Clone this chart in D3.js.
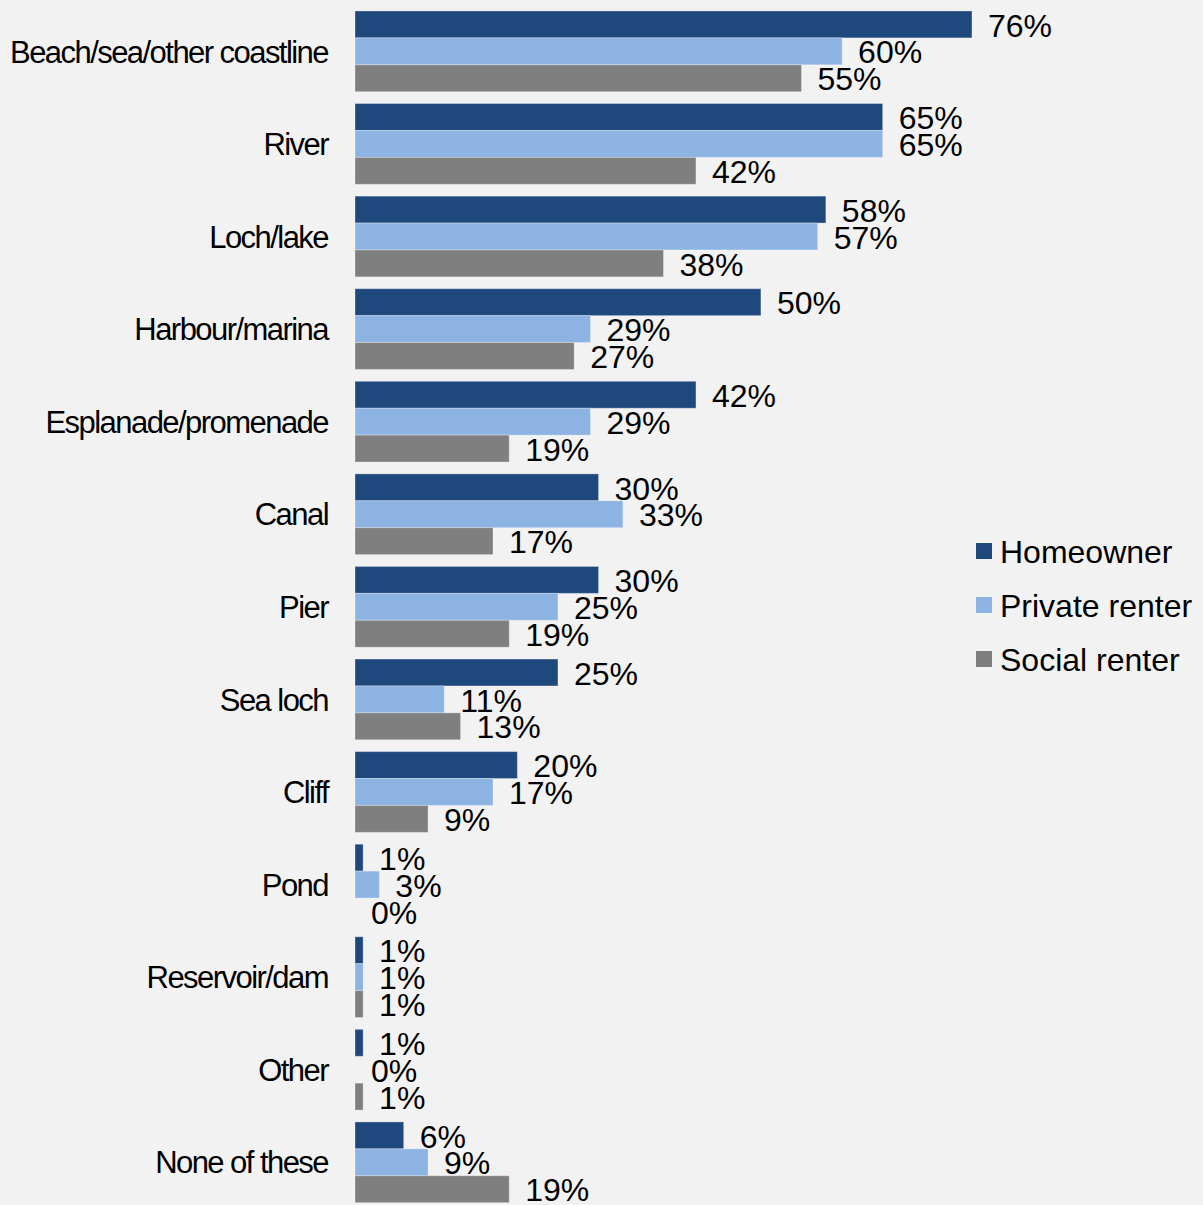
<!DOCTYPE html>
<html>
<head>
<meta charset="utf-8">
<script src="https://cdn.jsdelivr.net/npm/d3@7"></script>
<style>
  html, body { margin: 0; padding: 0; background: #f2f2f2; }
  svg { display: block; font-family: "Liberation Sans", Arial, sans-serif; }
</style>
</head>
<body>
<svg id="chart" width="1203" height="1205"></svg>
<script>
// Places near water, share by tenure (%)
const categories = [
  "Beach/sea/other coastline", "River", "Loch/lake", "Harbour/marina",
  "Esplanade/promenade", "Canal", "Pier", "Sea loch", "Cliff", "Pond",
  "Reservoir/dam", "Other", "None of these"
];
const seriesNames = ["Homeowner", "Private renter", "Social renter"];
const homeowner     = [76, 65, 58, 50, 42, 30, 30, 25, 20, 1, 1, 1, 6];
const privateRenter = [60, 65, 57, 29, 29, 33, 25, 11, 17, 3, 1, 0, 9];
const socialRenter  = [55, 42, 38, 27, 19, 17, 19, 13, 9, 0, 1, 1, 19];
const seriesColors  = ["#1f497d", "#8db3e2", "#7f7f7f"];

const seriesValues = [homeowner, privateRenter, socialRenter];
const rows = categories.map((c, i) => ({
  category: c,
  values: seriesNames.map((s, k) => ({ series: s, value: seriesValues[k][i] }))
}));

const svg = d3.select("#chart");

const x = d3.scaleLinear().domain([0, 100]).range([355, 1166.8]);
const y = d3.scaleBand().domain(categories).range([5.05, 1208.6])
  .paddingInner(0.128).paddingOuter(0.064);
const ySub = d3.scaleBand().domain(seriesNames).range([0, y.bandwidth()]);
const color = d3.scaleOrdinal().domain(seriesNames).range(seriesColors);

const groups = svg.append("g").selectAll("g")
  .data(rows).join("g")
  .attr("transform", d => `translate(0,${y(d.category)})`);

groups.selectAll("rect")
  .data(d => d.values.filter(v => v.value > 0))
  .join("rect")
  .attr("x", x(0))
  .attr("y", d => ySub(d.series))
  .attr("width", d => x(d.value) - x(0))
  .attr("height", ySub.bandwidth())
  .attr("fill", d => color(d.series))
  .attr("stroke", "rgba(255,255,255,0.3)")
  .attr("stroke-width", 1);

groups.selectAll("text.value")
  .data(d => d.values)
  .join("text")
  .attr("class", "value")
  .attr("x", d => x(d.value) + 16)
  .attr("y", d => ySub(d.series) + ySub.bandwidth() / 2)
  .attr("dy", "0.38em")
  .attr("font-size", 32)
  .attr("fill", "#000")
  .text(d => d.value + "%");

// Category axis labels
const yAxis = d3.axisLeft(y).tickSize(0).tickPadding(0);
const axisG = svg.append("g").attr("transform", "translate(328,0)").call(yAxis);
axisG.select(".domain").remove();
axisG.selectAll("text")
  .attr("font-size", 31)
  .attr("font-family", "'Liberation Sans', Arial, sans-serif")
  .attr("letter-spacing", "-1.55px")
  .attr("fill", "#000")
  .attr("dy", "0.36em");

// Legend
const legend = svg.append("g").attr("transform", "translate(976,543)")
  .selectAll("g").data(seriesNames).join("g")
  .attr("transform", (d, i) => `translate(0,${i * 54})`);
legend.append("rect")
  .attr("width", 16).attr("height", 16)
  .attr("fill", d => color(d));
legend.append("text")
  .attr("x", 24).attr("y", 8).attr("dy", "0.36em")
  .attr("font-size", 32)
  .attr("fill", "#000")
  .text(d => d);
</script>
</body>
</html>
